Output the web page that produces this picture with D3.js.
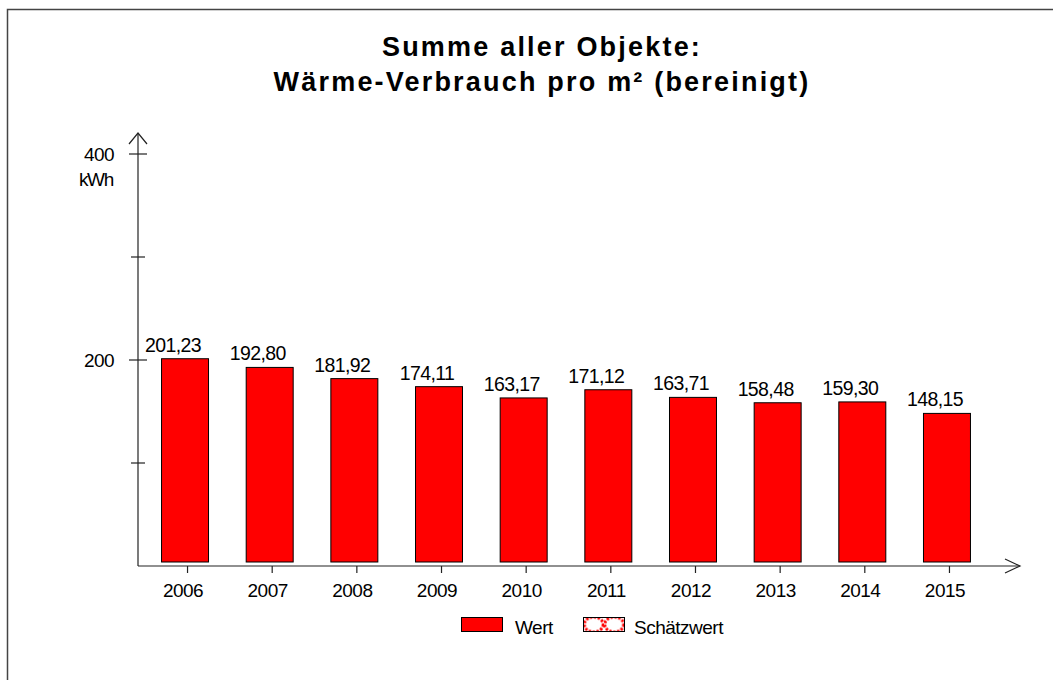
<!DOCTYPE html>
<html>
<head>
<meta charset="utf-8">
<script src="https://cdn.jsdelivr.net/npm/d3@7"></script>
<style>
  html, body { margin: 0; padding: 0; background: #fff; }
  svg { display: block; font-family: "Liberation Sans", Arial, sans-serif; }
</style>
</head>
<body>
<svg id="chart"></svg>
<script>
// data
const years = ["2006", "2007", "2008", "2009", "2010", "2011", "2012", "2013", "2014", "2015"];
const values = [201.23, 192.80, 181.92, 174.11, 163.17, 171.12, 163.71, 158.48, 159.30, 148.15];
const yTicks = [100, 200, 300, 400];
const yLabels = [200, 400];
const titleLines = ["Summe aller Objekte:", "Wärme-Verbrauch pro m² (bereinigt)"];
const legendItems = ["Wert", "Schätzwert"];

const width = 1053, height = 680;
const de = d3.formatLocale({decimal: ",", thousands: ".", grouping: [3], currency: ["", " €"]});
const fmt = de.format(".2f");

const svg = d3.select("#chart")
    .attr("width", width)
    .attr("height", height);

// pattern for the estimate legend entry
const defs = svg.append("defs");
const pat = defs.append("pattern")
    .attr("id", "est")
    .attr("patternUnits", "userSpaceOnUse")
    .attr("x", 583.5).attr("y", 617.5)
    .attr("width", 20.5).attr("height", 14);
pat.append("rect").attr("width", 20.5).attr("height", 14).attr("fill", "#fff");
pat.append("ellipse")
    .attr("cx", 10.25).attr("cy", 7).attr("rx", 9.5).attr("ry", 7.5)
    .attr("fill", "none").attr("stroke", "#ff0000").attr("stroke-width", 3)
    .attr("stroke-dasharray", "2.5,1.5");

// outer frame
svg.append("rect")
    .attr("x", 7.5).attr("y", 9.5)
    .attr("width", width + 20).attr("height", height + 20)
    .attr("fill", "none")
    .attr("stroke", "#444")
    .attr("stroke-width", 1.5);

// title
svg.append("g")
    .attr("font-size", 27)
    .attr("font-weight", "bold")
    .attr("text-anchor", "middle")
    .style("letter-spacing", "2.2px")
    .selectAll("text")
    .data(titleLines)
    .join("text")
    .attr("x", 542)
    .attr("y", (d, i) => 56 + i * 35)
    .text(d => d);

const x = d3.scaleBand()
    .domain(years)
    .range([142.7, 989.3])
    .paddingInner(0.445)
    .paddingOuter(0.2225);

const y = d3.scaleLinear()
    .domain([0, 400])
    .range([566, 154]);

const x0 = 138, axisEnd = 1020;

// bars
svg.append("g")
    .selectAll("rect")
    .data(values)
    .join("rect")
    .attr("x", (d, i) => x(years[i]))
    .attr("y", d => y(d))
    .attr("width", x.bandwidth())
    .attr("height", d => y(0) - 4 - y(d))
    .attr("fill", "#ff0000")
    .attr("stroke", "#000")
    .attr("stroke-width", 1);

// value labels
svg.append("g")
    .attr("font-size", 19.5)
    .attr("text-anchor", "middle")
    .selectAll("text")
    .data(values)
    .join("text")
    .attr("x", (d, i) => x(years[i]) + x.bandwidth() / 2 - 12)
    .attr("y", d => y(d) - 7)
    .style("letter-spacing", "-0.6px")
    .text(d => fmt(d));

// axes
const axes = svg.append("g").attr("stroke", "#222").attr("fill", "none").attr("stroke-width", 1.2);
axes.append("line").attr("x1", x0).attr("x2", x0).attr("y1", y(0)).attr("y2", 133);
axes.append("path").attr("d", `M${x0 - 9},144 L${x0},133 L${x0 + 9},144`);
axes.append("line").attr("x1", x0).attr("x2", axisEnd).attr("y1", y(0)).attr("y2", y(0));
axes.append("path").attr("d", `M${axisEnd - 15},${y(0) - 7} L${axisEnd},${y(0)} L${axisEnd - 15},${y(0) + 7}`);

axes.selectAll(".ytick")
    .data(yTicks)
    .join("line")
    .attr("class", "ytick")
    .attr("x1", d => yLabels.includes(d) ? x0 - 9 : x0 - 7)
    .attr("x2", d => yLabels.includes(d) ? x0 + 9 : x0 + 7)
    .attr("y1", d => y(d))
    .attr("y2", d => y(d));

axes.selectAll(".xtick")
    .data(years)
    .join("line")
    .attr("class", "xtick")
    .attr("x1", d => x(d) + x.bandwidth() / 2 + 2.5)
    .attr("x2", d => x(d) + x.bandwidth() / 2 + 2.5)
    .attr("y1", y(0))
    .attr("y2", y(0) + 7);

svg.append("g")
    .attr("font-size", 19)
    .attr("text-anchor", "end")
    .selectAll("text")
    .data(yLabels)
    .join("text")
    .attr("x", 114)
    .attr("y", d => y(d))
    .attr("dy", "0.35em")
    .style("letter-spacing", "-0.6px")
    .text(d => d);

svg.append("text")
    .attr("x", 113)
    .attr("y", 186)
    .attr("font-size", 19)
    .attr("text-anchor", "end")
    .style("letter-spacing", "-1.3px")
    .text("kWh");

svg.append("g")
    .attr("font-size", 19)
    .attr("text-anchor", "middle")
    .selectAll("text")
    .data(years)
    .join("text")
    .attr("x", d => x(d) + x.bandwidth() / 2 - 2)
    .attr("y", 597)
    .style("letter-spacing", "-0.5px")
    .text(d => d);

// legend
const legend = svg.append("g").attr("font-size", 19);
legend.append("rect")
    .attr("x", 461.5).attr("y", 617.5).attr("width", 41).attr("height", 14)
    .attr("fill", "#ff0000").attr("stroke", "#000");
legend.append("text").attr("x", 515).attr("y", 634).style("letter-spacing", "-0.5px").text(legendItems[0]);
legend.append("rect")
    .attr("x", 583.5).attr("y", 617.5).attr("width", 41).attr("height", 14)
    .attr("fill", "url(#est)").attr("stroke", "#000");
legend.append("text").attr("x", 634).attr("y", 634).style("letter-spacing", "-0.5px").text(legendItems[1]);
</script>
</body>
</html>
